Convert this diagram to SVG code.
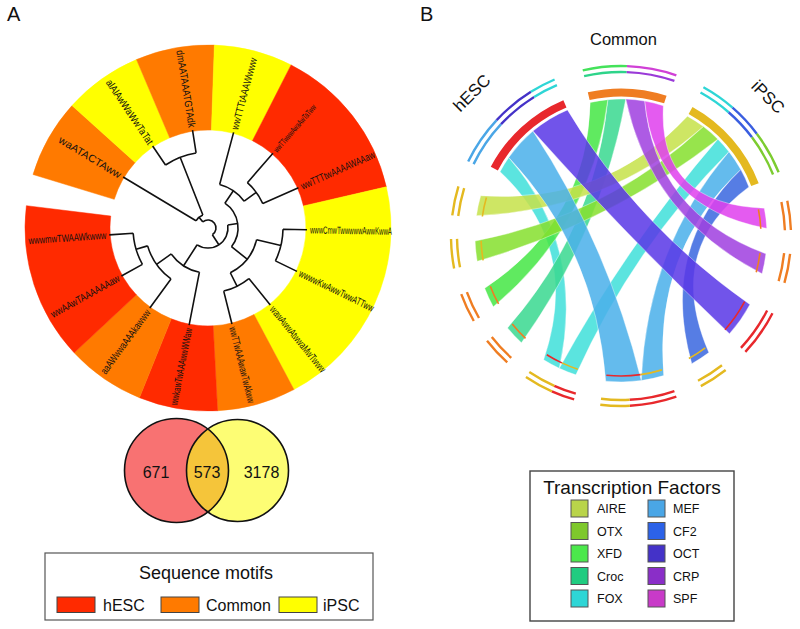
<svg xmlns="http://www.w3.org/2000/svg" width="800" height="629" viewBox="0 0 800 629">
<style>
text{font-family:"Liberation Sans",Arial,sans-serif;fill:#111}
.red{fill:#ff2a00;stroke:#ff2a00;stroke-width:0.5}
.org{fill:#ff7a00;stroke:#ff7a00;stroke-width:0.5}
.yel{fill:#ffff00;stroke:#ffff00;stroke-width:0.5}
.tree path{fill:none;stroke:#111;stroke-width:1.6}
.lab{font-size:10.5px}
.rib{stroke:#fff;stroke-width:0.4;fill-opacity:0.86}
.trk{fill:none;stroke-width:2.4}
.thick{fill:none;stroke-width:8}
.mk{fill:none;stroke-width:1.6}
.leg{font-size:12.5px}
.sw{stroke:#555;stroke-width:1}
</style>
<text x="7" y="21" font-size="20">A</text>
<text x="420" y="21" font-size="20">B</text>

<g id="ring">
<path class="org" d="M33.00,174.49 A183 183 0 0 1 72.01,105.55 L135.18,162.43 A98 98 0 0 0 114.28,199.34 Z"/>
<path class="yel" d="M72.01,105.55 A183 183 0 0 1 136.50,59.55 L169.71,137.79 A98 98 0 0 0 135.18,162.43 Z"/>
<path class="org" d="M136.50,59.55 A183 183 0 0 1 214.39,45.11 L211.42,130.06 A98 98 0 0 0 169.71,137.79 Z"/>
<path class="yel" d="M214.39,45.11 A183 183 0 0 1 291.08,64.95 L252.49,140.68 A98 98 0 0 0 211.42,130.06 Z"/>
<path class="red" d="M291.08,64.95 A183 183 0 0 1 386.32,186.82 L303.49,205.95 A98 98 0 0 0 252.49,140.68 Z"/>
<path class="yel" d="M386.32,186.82 A183 183 0 0 1 293.92,389.57 L254.01,314.52 A98 98 0 0 0 303.49,205.95 Z"/>
<path class="org" d="M293.92,389.57 A183 183 0 0 1 217.57,410.74 L213.13,325.86 A98 98 0 0 0 254.01,314.52 Z"/>
<path class="red" d="M217.57,410.74 A183 183 0 0 1 139.45,397.68 L171.29,318.87 A98 98 0 0 0 213.13,325.86 Z"/>
<path class="org" d="M139.45,397.68 A183 183 0 0 1 74.15,352.81 L136.32,294.84 A98 98 0 0 0 171.29,318.87 Z"/>
<path class="red" d="M74.15,352.81 A183 183 0 0 1 26.37,205.69 L110.73,216.05 A98 98 0 0 0 136.32,294.84 Z"/>
</g>

<g id="tree" class="tree">
<path d="M165.50,165.00 A76 76 0 0 1 196.11,152.93 M165.50,165.00 L152.64,145.93 M196.11,152.93 L192.52,130.22 M180.15,157.29 L202.87,214.97"/>
<path d="M196.00,220.79 A14 14 0 0 1 202.87,214.97 M196.00,220.79 L123.14,177.01 M198.96,217.31 L202.84,221.89"/>
<path d="M202.84,221.89 A8 8 0 1 1 212.34,234.72 M212.34,234.72 L218.86,244.80"/>
<path d="M227.77,225.00 A20 20 0 0 1 197.14,244.80 M227.77,225.00 L237.66,223.50"/>
<path d="M224.88,203.20 A30 30 0 0 1 231.48,246.68 M224.88,203.20 L233.33,190.80"/>
<path d="M219.65,184.53 A45 45 0 0 1 244.18,201.23 M219.65,184.53 L233.62,132.38 M244.18,201.23 L256.23,192.31"/>
<path d="M247.37,182.72 A60 60 0 0 1 262.81,203.60 M247.37,182.72 L272.95,153.28 M262.81,203.60 L298.44,187.74"/>
<path d="M231.48,246.68 L247.13,259.13 M256.62,239.67 A50 50 0 0 1 230.31,272.75"/>
<path d="M256.62,239.67 L280.93,245.51 M282.99,229.31 A75 75 0 0 1 275.41,260.88 M282.99,229.31 L306.98,229.73 M275.41,260.88 L296.98,271.40"/>
<path d="M230.31,272.75 L237.00,286.17 M248.90,278.51 A65 65 0 0 1 223.72,291.07 M248.90,278.51 L270.30,304.93 M223.72,291.07 L231.95,324.06"/>
<path d="M197.14,244.80 L183.57,265.80 M199.41,272.17 A45 45 0 0 1 171.25,253.97 M199.41,272.17 L189.11,325.18 M171.25,253.97 L156.55,264.36"/>
<path d="M170.97,278.97 A63 63 0 0 1 147.60,245.89 M170.97,278.97 L149.81,308.09 M147.60,245.89 L136.09,249.30"/>
<path d="M142.40,264.36 A75 75 0 0 1 133.18,233.24 M142.40,264.36 L121.41,276.00 M133.18,233.24 L109.24,234.91"/>
</g>

<g id="motif-labels" class="lab">
<text x="310" y="228" dy="0.35em" transform="rotate(-75 208 228)" textLength="74" lengthAdjust="spacingAndGlyphs">wwTTTtAAAWwww</text>
<text x="310" y="228" dy="0.35em" transform="rotate(-49 208 228)" textLength="60" lengthAdjust="spacingAndGlyphs" font-size="8.5">wwTTwwwAwaAwTaTww</text>
<text x="310" y="228" dy="0.35em" transform="rotate(-24 208 228)" textLength="80" lengthAdjust="spacingAndGlyphs">wwTTTtwAAAAWAAaw</text>
<text x="310" y="228" dy="0.35em" transform="rotate(1 208 228)" textLength="82" lengthAdjust="spacingAndGlyphs">wwwCmwTwwwwwAwwKwwA</text>
<text x="310" y="228" dy="0.35em" transform="rotate(26 208 228)" textLength="82" lengthAdjust="spacingAndGlyphs">wwwwKwAwwTwwATTww</text>
<text x="310" y="228" dy="0.35em" transform="rotate(51 208 228)" textLength="82" lengthAdjust="spacingAndGlyphs">wawAwwAtwwaMwTwww</text>
<text x="310" y="228" dy="0.35em" transform="rotate(76 208 228)" textLength="78" lengthAdjust="spacingAndGlyphs">wwTTwAAAwawTwAkww</text>
<text x="28" y="228" dy="0.35em" transform="rotate(-79 208 228)" textLength="78" lengthAdjust="spacingAndGlyphs">wwkawTwAAAwwWWaw</text>
<text x="29" y="228" dy="0.35em" transform="rotate(-54 208 228)" textLength="77" lengthAdjust="spacingAndGlyphs">aaAWwwaAAAkawww</text>
<text x="29" y="228" dy="0.35em" transform="rotate(-29 208 228)" textLength="77" lengthAdjust="spacingAndGlyphs">wwAAwTAAAAAAaw</text>
<text x="28" y="228" dy="0.35em" transform="rotate(-4 208 228)" textLength="78" lengthAdjust="spacingAndGlyphs">wwwmwTWAAWkwww</text>
<text x="35" y="228" dy="0.35em" transform="rotate(31 208 228)" textLength="71" lengthAdjust="spacingAndGlyphs">waATACTAww</text>
<text x="30" y="228" dy="0.35em" transform="rotate(56 208 228)" textLength="76" lengthAdjust="spacingAndGlyphs">alAlAwWaWwTaTat</text>
<text x="28" y="228" dy="0.35em" transform="rotate(81 208 228)" textLength="78" lengthAdjust="spacingAndGlyphs">dmAATAAATGTAdk</text>
</g>

<g id="venn">
<defs><clipPath id="lc"><circle cx="176.5" cy="470.5" r="52"/></clipPath></defs>
<circle cx="176.5" cy="470.5" r="52" fill="#f87272"/>
<circle cx="237.5" cy="470.5" r="51" fill="#fdfd74"/>
<circle cx="237.5" cy="470.5" r="51" fill="#f5c53a" clip-path="url(#lc)"/>
<circle cx="176.5" cy="470.5" r="52" fill="none" stroke="#111" stroke-width="1.6"/>
<circle cx="237.5" cy="470.5" r="51" fill="none" stroke="#111" stroke-width="1.6"/>
<text x="156" y="478" font-size="16" text-anchor="middle">671</text>
<text x="207" y="478" font-size="16" text-anchor="middle">573</text>
<text x="261.5" y="478" font-size="16" text-anchor="middle">3178</text>
</g>

<g id="legend-motifs">
<rect x="45" y="553" width="328" height="67" fill="#fff" stroke="#555" stroke-width="1.2"/>
<text x="206" y="579" font-size="18" text-anchor="middle">Sequence motifs</text>
<rect x="57" y="597" width="38" height="15.5" fill="#ff2a00" stroke="#444"/>
<text x="103" y="611" font-size="16">hESC</text>
<rect x="161" y="597" width="38" height="15.5" fill="#ff7a00" stroke="#444"/>
<text x="206" y="611" font-size="16">Common</text>
<rect x="279" y="597" width="38" height="15.5" fill="#ffff00" stroke="#444"/>
<text x="323" y="611" font-size="16">iPSC</text>
</g>

<g id="connectors">
<path class="rib" fill="#40e0da" d="M500.04,171.68 A137 137 0 0 1 508.77,157.42 Q586.21 246.75 559.30,368.32 A146 146 0 0 1 543.63,359.81 Q581.33 247.90 500.04,171.68 Z"/>
<path class="rib" fill="#3ad990" d="M607.88,99.63 A137 137 0 0 1 625.78,99.08 Q602.04 229.97 521.43,342.78 A146 146 0 0 1 507.54,327.88 Q595.68 227.10 607.88,99.63 Z"/>
<path class="rib" fill="#46e646" d="M590.17,102.51 A137 137 0 0 1 607.88,99.63 Q592.84 222.88 493.31,306.78 A146 146 0 0 1 484.69,288.33 Q587.57 219.77 590.17,102.51 Z"/>
<path class="rib" fill="#40e0da" d="M717.87,139.13 A137 137 0 0 1 728.96,151.65 Q633.57 246.90 575.89,374.86 A146 146 0 0 1 559.30,368.32 Q628.03 243.09 717.87,139.13 Z"/>
<path class="rib" fill="#c6e24a" d="M687.42,116.18 A137 137 0 0 1 703.45,126.59 Q608.57 210.05 476.42,215.68 A146 146 0 0 1 480.65,195.76 Q606.21 203.99 687.42,116.18 Z"/>
<path class="rib" fill="#86e02e" d="M703.45,126.59 A137 137 0 0 1 717.87,139.13 Q611.62 221.70 477.22,261.35 A146 146 0 0 1 475.09,241.10 Q608.31 215.14 703.45,126.59 Z"/>
<path class="rib" fill="#4ab0ea" d="M508.77,157.42 A137 137 0 0 1 532.94,131.06 Q607.45 243.93 641.32,380.58 A146 146 0 0 1 605.74,381.20 Q595.50 249.32 508.77,157.42 Z"/>
<path class="rib" fill="#4ab0ea" d="M728.96,151.65 A137 137 0 0 1 740.82,169.58 Q653.50 250.64 663.69,375.62 A146 146 0 0 1 641.32,380.58 Q646.66 248.05 728.96,151.65 Z"/>
<path class="rib" fill="#3a68e0" d="M740.82,169.58 A137 137 0 0 1 748.90,186.90 Q664.15 249.50 708.86,352.60 A146 146 0 0 1 691.78,363.69 Q659.12 248.25 740.82,169.58 Z"/>
<path class="rib" fill="#a040e0" d="M625.78,99.08 A137 137 0 0 1 644.78,101.08 Q654.74 212.58 765.91,253.80 A146 146 0 0 1 762.02,273.78 Q650.16 216.17 625.78,99.08 Z"/>
<path class="rib" fill="#e040ee" d="M644.78,101.08 A137 137 0 0 1 663.33,105.70 Q658.13 204.37 764.31,208.14 A146 146 0 0 1 766.80,228.36 Q654.92 207.49 644.78,101.08 Z"/>
<path class="rib" fill="#5a38e6" d="M532.94,131.06 A137 137 0 0 1 567.47,109.89 Q636.07 224.49 749.90,304.55 A146 146 0 0 1 729.49,333.69 Q625.09 234.55 532.94,131.06 Z"/>
</g>

<g id="group-hESC">
<path class="thick" stroke="#e8282c" d="M494.30,168.63 A143.5 143.5 0 0 1 564.93,103.91"/>
<path class="trk" stroke="#4aa6e6" d="M473.60,164.10 A164 164 0 0 1 501.05,124.15 M468.20,161.47 A170 170 0 0 1 496.66,120.06"/>
<path class="trk" stroke="#4432c8" d="M501.05,124.15 A164 164 0 0 1 534.10,96.93 M496.66,120.06 A170 170 0 0 1 530.92,91.84"/>
<path class="trk" stroke="#2ed6d6" d="M534.10,96.93 A164 164 0 0 1 556.93,85.04 M530.92,91.84 A170 170 0 0 1 554.58,79.51"/>
<text font-size="17" text-anchor="middle" transform="translate(476 97) rotate(-45)">hESC</text>
</g>
<g id="group-Common">
<path class="thick" stroke="#ef7d22" d="M588.71,96.17 A143.5 143.5 0 0 1 665.34,99.52"/>
<path class="trk" stroke="#44e25a" d="M582.75,70.35 A170 170 0 0 1 626.93,66.10"/>
<path class="trk" stroke="#2ed48a" d="M584.10,76.20 A164 164 0 0 1 626.72,72.10"/>
<path class="trk" stroke="#d040d6" d="M626.93,66.10 A170 170 0 0 1 676.35,75.26"/>
<path class="trk" stroke="#9a3ad8" d="M626.72,72.10 A164 164 0 0 1 674.40,80.94"/>
<text x="623.5" y="45" font-size="16.5" text-anchor="middle">Common</text>
</g>
<g id="group-iPSC">
<path class="thick" stroke="#e4b920" d="M690.57,110.49 A143.5 143.5 0 0 1 754.97,184.57"/>
<path class="trk" stroke="#2ed6d6" d="M700.51,92.57 A164 164 0 0 1 728.60,112.23 M703.42,87.32 A170 170 0 0 1 732.54,107.70"/>
<path class="trk" stroke="#3a5ee0" d="M728.60,112.23 A164 164 0 0 1 751.97,137.30 M732.54,107.70 A170 170 0 0 1 756.76,133.69"/>
<path class="trk" stroke="#7ccc30" d="M751.97,137.30 A164 164 0 0 1 773.06,174.57 M756.76,133.69 A170 170 0 0 1 778.62,172.32"/>
<text font-size="17" text-anchor="middle" transform="translate(764 101) rotate(45)">iPSC</text>
</g>

<g id="tf-AIRE">
<path class="mk" stroke="#e4b920" d="M482.36,216.51 A140 140 0 0 1 486.42,197.42"/>
<path class="trk" stroke="#e4b920" d="M458.23,216.01 A164 164 0 0 1 464.17,188.05 M452.27,215.28 A170 170 0 0 1 458.43,186.29"/>
</g>
<g id="tf-OTX">
<path class="mk" stroke="#e4b920" d="M483.13,260.30 A140 140 0 0 1 481.08,240.89"/>
<path class="trk" stroke="#e4b920" d="M460.02,267.29 A164 164 0 0 1 457.03,238.87 M454.13,268.44 A170 170 0 0 1 451.03,238.98"/>
</g>
<g id="tf-XFD">
<path class="mk" stroke="#ef7d22" d="M498.56,303.87 A140 140 0 0 1 490.30,286.18"/>
<path class="trk" stroke="#ef7d22" d="M478.98,318.00 A164 164 0 0 1 466.89,292.09 M473.78,321.00 A170 170 0 0 1 461.25,294.14"/>
</g>
<g id="tf-Croc">
<path class="mk" stroke="#ef7d22" d="M525.52,338.40 A140 140 0 0 1 512.21,324.10"/>
<path class="trk" stroke="#ef7d22" d="M511.27,357.87 A164 164 0 0 1 491.77,336.97 M507.25,362.33 A170 170 0 0 1 487.04,340.67"/>
</g>
<g id="tf-FOX">
<path class="mk" stroke="#e4b920" d="M577.74,369.15 A140 140 0 0 1 561.84,362.88"/>
<path class="mk" stroke="#e8282c" d="M561.84,362.88 A140 140 0 0 1 546.81,354.72"/>
<path class="trk" stroke="#e8282c" d="M575.80,393.65 A164 164 0 0 1 554.30,385.81 M574.15,399.42 A170 170 0 0 1 551.86,391.30"/>
<path class="trk" stroke="#e4b920" d="M554.30,385.81 A164 164 0 0 1 529.29,371.96 M551.86,391.30 A170 170 0 0 1 525.94,376.93"/>
</g>
<g id="tf-MEF">
<path class="mk" stroke="#e4b920" d="M661.94,369.88 A140 140 0 0 1 640.49,374.64"/>
<path class="mk" stroke="#e8282c" d="M640.49,374.64 A140 140 0 0 1 606.37,375.23"/>
<path class="trk" stroke="#e8282c" d="M674.40,391.06 A164 164 0 0 1 629.58,399.77 M676.35,396.74 A170 170 0 0 1 629.89,405.76"/>
<path class="trk" stroke="#e4b920" d="M629.58,399.77 A164 164 0 0 1 601.01,398.77 M629.89,405.76 A170 170 0 0 1 600.28,404.73"/>
</g>
<g id="tf-CF2">
<path class="mk" stroke="#e4b920" d="M705.25,347.80 A140 140 0 0 1 688.87,358.44"/>
<path class="trk" stroke="#e4b920" d="M721.97,365.23 A164 164 0 0 1 698.00,380.80 M725.67,369.96 A170 170 0 0 1 700.82,386.09"/>
</g>
<g id="tf-OCT">
<path class="mk" stroke="#e8282c" d="M744.61,301.73 A140 140 0 0 1 725.03,329.67"/>
<path class="trk" stroke="#e8282c" d="M767.12,310.46 A164 164 0 0 1 740.95,347.85 M772.47,313.18 A170 170 0 0 1 745.34,351.94"/>
</g>
<g id="tf-CRP">
<path class="mk" stroke="#ef7d22" d="M759.95,253.07 A140 140 0 0 1 756.23,272.23"/>
<path class="trk" stroke="#ef7d22" d="M784.10,253.14 A164 164 0 0 1 778.65,281.20 M790.07,253.77 A170 170 0 0 1 784.42,282.85"/>
</g>
<g id="tf-SPF">
<path class="mk" stroke="#ef7d22" d="M758.42,209.29 A140 140 0 0 1 760.80,228.68"/>
<path class="trk" stroke="#ef7d22" d="M781.41,201.90 A164 164 0 0 1 784.90,230.28 M787.28,200.66 A170 170 0 0 1 790.90,230.07"/>
</g>

<g id="legend-tf">
<rect x="530" y="471" width="204" height="150" fill="#fff" stroke="#444" stroke-width="1.4"/>
<text x="632" y="494" font-size="19" text-anchor="middle">Transcription Factors</text>
<rect class="sw" x="571" y="500" width="17" height="17" fill="#b9d44a"/><text class="leg" x="597" y="513">AIRE</text>
<rect class="sw" x="571" y="522.5" width="17" height="17" fill="#7ec82c"/><text class="leg" x="597" y="535.5">OTX</text>
<rect class="sw" x="571" y="545" width="17" height="17" fill="#4be84b"/><text class="leg" x="597" y="558">XFD</text>
<rect class="sw" x="571" y="567.5" width="17" height="17" fill="#20cc80"/><text class="leg" x="597" y="580.5">Croc</text>
<rect class="sw" x="571" y="590" width="17" height="17" fill="#2ed6d6"/><text class="leg" x="597" y="603">FOX</text>
<rect class="sw" x="648" y="500" width="17" height="17" fill="#4aa6e6"/><text class="leg" x="673" y="513">MEF</text>
<rect class="sw" x="648" y="522.5" width="17" height="17" fill="#2c62e8"/><text class="leg" x="673" y="535.5">CF2</text>
<rect class="sw" x="648" y="545" width="17" height="17" fill="#4432c8"/><text class="leg" x="673" y="558">OCT</text>
<rect class="sw" x="648" y="567.5" width="17" height="17" fill="#8a2ec8"/><text class="leg" x="673" y="580.5">CRP</text>
<rect class="sw" x="648" y="590" width="17" height="17" fill="#c83ac8"/><text class="leg" x="673" y="603">SPF</text>
</g>
</svg>
